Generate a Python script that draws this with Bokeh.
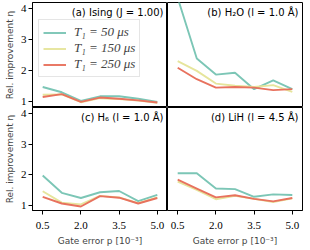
from bokeh.plotting import figure
from bokeh.layouts import gridplot
from bokeh.models import Range1d, FixedTicker, NumeralTickFormatter, Label, Legend, LegendItem
from bokeh.embed import file_html
from bokeh.resources import INLINE

# ---- data ----
gate_error = [0.5, 1.25, 2.0, 2.75, 3.5, 4.25, 5.0]
x_ticks = [0.5, 2.0, 3.5, 5.0]
y_ticks = [1, 2, 3, 4]

series_labels = ["T\u2081 = 50 \u03bcs", "T\u2081 = 150 \u03bcs", "T\u2081 = 250 \u03bcs"]
colors = ["#7cc6b6", "#e6e59c", "#e8725e"]

ising_t50 = [1.48, 1.31, 1.03, 1.18, 1.18, 1.10, 1.00]
ising_t150 = [1.23, 1.24, 0.99, 1.12, 1.09, 1.04, 0.97]
ising_t250 = [1.16, 1.25, 1.00, 1.14, 1.10, 1.05, 0.98]

h2o_t50 = [4.35, 2.40, 1.88, 1.94, 1.41, 1.69, 1.41]
h2o_t150 = [2.31, 2.00, 1.59, 1.52, 1.48, 1.54, 1.32]
h2o_t250 = [2.10, 1.73, 1.46, 1.48, 1.46, 1.38, 1.41]

h6_t50 = [1.97, 1.40, 1.23, 1.42, 1.46, 1.13, 1.33]
h6_t150 = [1.45, 1.08, 1.02, 1.30, 1.25, 1.06, 1.25]
h6_t250 = [1.27, 1.05, 0.95, 1.29, 1.24, 1.05, 1.23]

lih_t50 = [2.04, 2.04, 1.54, 1.52, 1.27, 1.35, 1.33]
lih_t150 = [1.77, 1.50, 1.19, 1.30, 1.20, 1.10, 1.22]
lih_t250 = [1.83, 1.54, 1.25, 1.32, 1.20, 1.12, 1.23]

titles = ["(a) Ising (J = 1.00)", "(b) H\u2082O (l = 1.0 \u00c5)",
          "(c) H\u2086 (l = 1.0 \u00c5)", "(d) LiH (l = 4.5 \u00c5)"]

x_label = "Gate error p [10\u207b\u00b3]"
y_label = "Rel. improvement \u03b7"

X0, X1 = 0.1, 5.4
Y0, Y1 = 0.82, 4.2
FW = 135
FH_TOP, FH_BOT = 105, 103
LB, TB, BB = 32, 2, 39

TICK_FONT = "Liberation Serif"
LABEL_FONT = "DejaVu Sans"


def make_panel(title, ys, left, bottom):
    w = FW + (LB if left else 1)
    h = (FH_BOT + BB) if bottom else (FH_TOP + TB)
    p = figure(width=w, height=h, output_backend="svg", toolbar_location=None,
               x_range=Range1d(X0, X1), y_range=Range1d(Y0, Y1),
               x_axis_location="below" if bottom else None,
               y_axis_location="left" if left else None,
               min_border_left=LB if left else 0,
               min_border_right=0 if left else 1,
               min_border_top=0 if bottom else TB,
               min_border_bottom=BB if bottom else 0)
    p.grid.visible = False
    p.outline_line_color = "black"
    p.outline_line_width = 1
    p.outline_line_alpha = 1
    p.background_fill_color = "white"
    p.border_fill_color = "white"
    if bottom:
        ax = p.xaxis[0]
        ax.ticker = FixedTicker(ticks=x_ticks)
        ax.formatter = NumeralTickFormatter(format="0.0")
        ax.axis_label = x_label
        ax.axis_label_text_font = LABEL_FONT
        ax.axis_label_text_font_size = "9px"
        ax.axis_label_text_font_style = "normal"
        ax.axis_label_standoff = 4
        ax.major_label_standoff = 7
    if left:
        ay = p.yaxis[0]
        ay.ticker = FixedTicker(ticks=y_ticks)
        ay.axis_label = y_label
        ay.axis_label_text_font = LABEL_FONT
        ay.axis_label_text_font_size = "9px"
        ay.axis_label_text_font_style = "normal"
        ay.axis_label_standoff = 3
        ay.major_label_standoff = 2
    for ax in p.axis:
        ax.major_label_text_font = TICK_FONT
        ax.major_label_text_font_size = "11px"
        ax.major_label_text_color = "black"
        ax.major_tick_in = 0
        ax.major_tick_out = 4
        ax.minor_tick_line_color = None
        ax.axis_line_color = "black"
        ax.major_tick_line_color = "black"
    renderers = []
    for y, c in zip(ys, colors):
        r = p.line(gate_error, y, line_color=c, line_width=1.9)
        renderers.append(r)
    p.add_layout(Label(x=X1, y=Y1, x_offset=-4, y_offset=-4, text=title,
                       text_align="right", text_baseline="top",
                       text_font=LABEL_FONT, text_font_size="10px", text_color="black"))
    return p, renderers


pa, ra = make_panel(titles[0], [ising_t50, ising_t150, ising_t250], True, False)
pb, _ = make_panel(titles[1], [h2o_t50, h2o_t150, h2o_t250], False, False)
pc, _ = make_panel(titles[2], [h6_t50, h6_t150, h6_t250], True, True)
pd, _ = make_panel(titles[3], [lih_t50, lih_t150, lih_t250], False, True)

legend = Legend(items=[LegendItem(label=l, renderers=[r]) for l, r in zip(series_labels, ra)],
                location=(6, 30), margin=0, padding=4, spacing=0,
                glyph_width=23, glyph_height=15, label_height=15, label_standoff=8,
                label_text_font=TICK_FONT, label_text_font_style="italic",
                label_text_font_size="13px",
                border_line_color="#cccccc", border_line_width=1,
                background_fill_color="white", background_fill_alpha=0.8)
pa.add_layout(legend)

grid = gridplot([[pa, pb], [pc, pd]], toolbar_location=None)

open("out.html", "w").write(file_html(grid, INLINE))
